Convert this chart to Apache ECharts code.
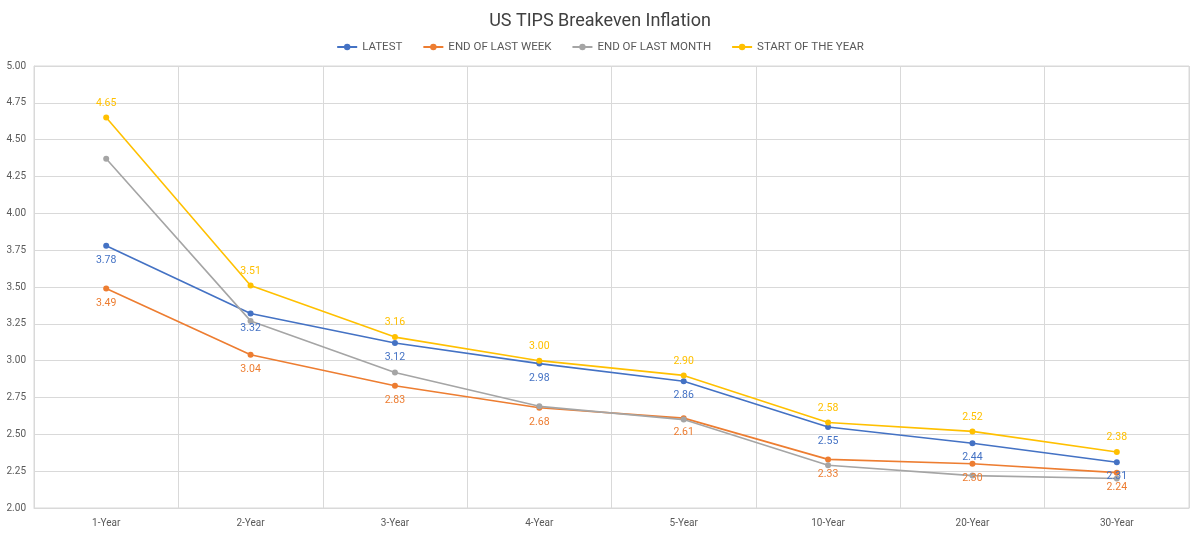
<!DOCTYPE html>
<html><head><meta charset="utf-8">
<script src="https://cdn.jsdelivr.net/npm/echarts@6/dist/echarts.min.js"></script>
<style>html,body{margin:0;padding:0;background:#fff}#c{width:1200px;height:535px}</style>
</head><body><div id="c"></div>
<script>
const categories = ['1-Year','2-Year','3-Year','4-Year','5-Year','10-Year','20-Year','30-Year'];
const latest = [3.78,3.32,3.12,2.98,2.86,2.55,2.44,2.31];
const endLastWeek = [3.49,3.04,2.83,2.68,2.61,2.33,2.30,2.24];
const endLastMonth = [4.37,3.27,2.92,2.69,2.60,2.29,2.22,2.20];
const startOfYear = [4.65,3.51,3.16,3.00,2.90,2.58,2.52,2.38];
const seriesNames = ['LATEST','END OF LAST WEEK','END OF LAST MONTH','START OF THE YEAR'];

const font = 'Roboto, "DejaVu Sans", sans-serif';
function mk(name, data, color, labelPos) {
  return {
    name, type: 'line', data,
    symbol: 'circle', symbolSize: 6,
    lineStyle: {width: 1.6, color},
    itemStyle: {color},
    label: labelPos ? {show: true, position: labelPos, distance: 6, color, fontSize: 10.5, fontFamily: font,
      formatter: p => p.value.toFixed(2)} : {show: false},
    z: labelPos === 'top' ? 4 : 3
  };
}
const chart = echarts.init(document.getElementById('c'), null, {renderer: 'canvas'});
chart.setOption({
  animation: false,
  backgroundColor: '#fff',
  title: {text: 'US TIPS Breakeven Inflation', left: 'center', top: 7,
    textStyle: {fontSize: 18, fontWeight: 'normal', color: '#404040', fontFamily: font}},
  legend: {top: 36, left: 'center', itemWidth: 20, itemHeight: 8, itemGap: 20,
    textStyle: {fontSize: 11.5, color: '#595959', fontFamily: font},
    data: seriesNames},
  grid: {left: 34, right: 11, top: 66, bottom: 27, show: true, borderColor: '#d9d9d9', borderWidth: 1},
  xAxis: {type: 'category', data: categories, boundaryGap: true,
    axisLine: {lineStyle: {color: '#d9d9d9'}}, axisTick: {show: false},
    splitLine: {show: true, lineStyle: {color: '#d9d9d9'}},
    axisLabel: {color: '#595959', fontSize: 10, fontFamily: font, margin: 10}},
  yAxis: {type: 'value', min: 2, max: 5, interval: 0.25,
    axisLine: {show: true, lineStyle: {color: '#d9d9d9'}}, axisTick: {show: false},
    splitLine: {lineStyle: {color: '#d9d9d9'}},
    axisLabel: {color: '#595959', fontSize: 10, fontFamily: font, margin: 8, formatter: v => v.toFixed(2)}},
  series: [
    mk(seriesNames[0], latest, '#4472C4', 'bottom'),
    mk(seriesNames[1], endLastWeek, '#ED7D31', 'bottom'),
    mk(seriesNames[2], endLastMonth, '#A5A5A5', null),
    mk(seriesNames[3], startOfYear, '#FFC000', 'top')
  ]
});
</script></body></html>
